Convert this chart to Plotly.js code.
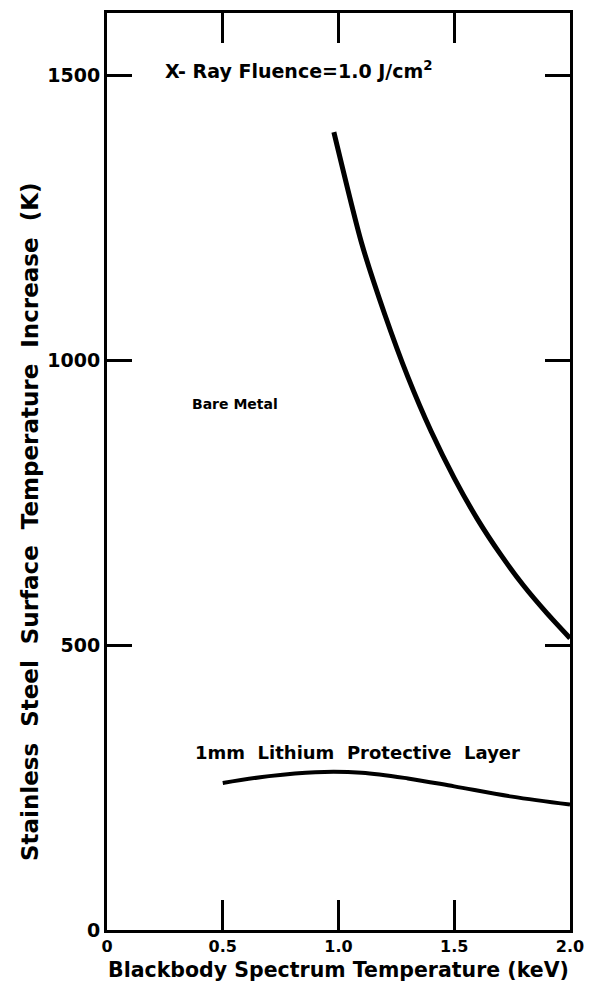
<!DOCTYPE html>
<html>
<head>
<meta charset="utf-8">
<script src="https://cdn.plot.ly/plotly-3.0.1.min.js"></script>
<style>html,body{margin:0;padding:0;background:#fff;}#chart{width:591px;height:993px;}</style>
</head>
<body>
<div id="chart"></div>
<script>
// Bare metal curve (keV, K)
const bareX = [0.98, 1.1, 1.2, 1.3, 1.4, 1.5, 1.6, 1.7, 1.8, 1.9, 2.0];
const bareY = [1400, 1205, 1080, 970, 875, 793, 721, 659, 604, 556, 512];
// 1mm lithium protective layer curve
const liX = [0.5, 0.7, 0.9, 1.1, 1.3, 1.5, 1.75, 2.0];
const liY = [258, 270, 277, 276, 266, 252, 234, 220];
const xTicks = [0, 0.5, 1.0, 1.5, 2.0];
const xTickText = ['0', '0.5', '1.0', '1.5', '2.0'];
const yTicks = [0, 500, 1000, 1500];
const yTickText = ['0', '500', '1000', '1500'];

const fnt = 'DejaVu Sans, sans-serif';
const traces = [
  {x: bareX, y: bareY, mode: 'lines', line: {color: '#000', width: 5, shape: 'spline', smoothing: 0.7}, hoverinfo: 'skip'},
  {x: liX, y: liY, mode: 'lines', line: {color: '#000', width: 4, shape: 'spline'}, hoverinfo: 'skip'}
];
const layout = {
  width: 591, height: 993,
  margin: {l: 107, r: 21, t: 13, b: 63},
  paper_bgcolor: '#fff', plot_bgcolor: '#fff',
  showlegend: false,
  font: {family: fnt, color: '#000'},
  xaxis: {
    range: [0, 2.0], tickvals: xTicks, ticktext: xTickText,
    ticks: 'inside', ticklen: 30, tickwidth: 3, tickcolor: '#000',
    showline: true, linewidth: 3, linecolor: '#000', mirror: 'ticks',
    showgrid: false, zeroline: false,
    tickfont: {size: 16, family: fnt, weight: 'bold'},
    title: {text: '<b>Blackbody Spectrum Temperature (keV)</b>', font: {size: 20.5, family: fnt}, standoff: 8}
  },
  yaxis: {
    range: [0, 1609], tickvals: yTicks, ticktext: yTickText,
    ticks: 'inside', ticklen: 25, tickwidth: 3, tickcolor: '#000',
    showline: true, linewidth: 3, linecolor: '#000', mirror: 'ticks',
    showgrid: false, zeroline: false,
    tickfont: {size: 19, family: fnt, weight: 'bold'}
  },
  annotations: [
    {x: -0.166, y: 0.445, xref: 'paper', yref: 'paper', xanchor: 'center', yanchor: 'middle', showarrow: false,
     textangle: -90, text: '<b>Stainless  Steel  Surface  Temperature  Increase  (K)</b>', font: {size: 23, family: fnt}},
    {x: 0.24, y: 1509, xref: 'x', yref: 'y', xanchor: 'left', yanchor: 'middle', showarrow: false,
     text: '<b>X- Ray Fluence=1.0 J/cm<sup>2</sup></b>', font: {size: 19, family: fnt}},
    {x: 0.36, y: 923, xref: 'x', yref: 'y', xanchor: 'left', yanchor: 'middle', showarrow: false,
     text: '<b>Bare Metal</b>', font: {size: 14, family: fnt}},
    {x: 0.37, y: 312, xref: 'x', yref: 'y', xanchor: 'left', yanchor: 'middle', showarrow: false,
     text: '<b>1mm  Lithium  Protective  Layer</b>', font: {size: 18, family: fnt}}
  ]
};
Plotly.newPlot('chart', traces, layout, {displayModeBar: false, staticPlot: true});
</script>
</body>
</html>
